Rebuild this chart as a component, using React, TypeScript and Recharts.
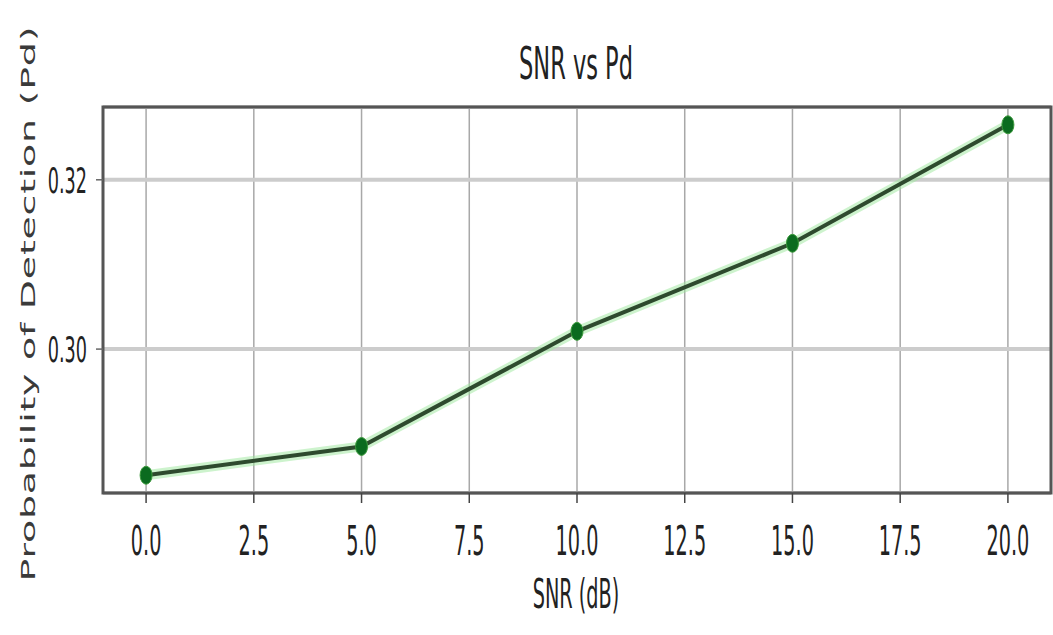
import React from 'react';
import { LineChart, Line, XAxis, YAxis, CartesianGrid, ReferenceArea } from 'recharts';

const snr = [0, 5, 10, 15, 20];
const pd = [0.2851, 0.2885, 0.3021, 0.3125, 0.3265];
const xTicks = [0, 2.5, 5, 7.5, 10, 12.5, 15, 17.5, 20];
const yTicks = [0.3, 0.32];

const data = snr.map((s, i) => ({ snr: s, pd: pd[i] }));

const FONT = '"DejaVu Sans", sans-serif';
const TEXT = '#222';

const XTick = (props: any) => {
  const { x, y, payload } = props;
  return (
    <g transform={`translate(${x},${y + 50}) scale(0.47,1)`}>
      <text x={0} y={0} textAnchor="middle" fontFamily={FONT} fontSize={41} fill={TEXT}>
        {Number(payload.value).toFixed(1)}
      </text>
    </g>
  );
};

const YTick = (props: any) => {
  const { y, payload } = props;
  return (
    <g transform={`translate(87,${y + 13}) scale(0.49,1)`}>
      <text x={0} y={0} textAnchor="end" fontFamily={FONT} fontSize={36} fill={TEXT}>
        {Number(payload.value).toFixed(2)}
      </text>
    </g>
  );
};

const Dot = (props: any) => {
  const { cx, cy } = props;
  if (cx == null || cy == null) return null;
  return <ellipse cx={cx} cy={cy} rx={6} ry={9} fill="#0b6b1f" stroke="#3c9a3c" strokeWidth={1} />;
};

export default function App() {
  return (
    <div style={{ position: 'absolute', left: 0, top: 0, width: 1053, height: 635, background: '#fff' }}>
      <LineChart width={1053} height={635} data={data} margin={{ top: 107, right: 2, bottom: 0, left: 0 }}>
        <CartesianGrid horizontal={false} stroke="#a8a8a8" strokeWidth={1.5} />
        <CartesianGrid vertical={false} stroke="#cccccc" strokeWidth={4} />
        <XAxis
          dataKey="snr"
          type="number"
          domain={[-1, 21]}
          ticks={xTicks}
          allowDataOverflow
          height={142}
          tickSize={10}
          tick={<XTick />}
          axisLine={false}
          tickLine={{ stroke: '#444', strokeWidth: 1.5 }}
        />
        <YAxis
          type="number"
          domain={[0.283, 0.3286]}
          ticks={yTicks}
          allowDataOverflow
          width={103}
          tickSize={7}
          tick={<YTick />}
          axisLine={false}
          tickLine={{ stroke: '#666', strokeWidth: 1.5 }}
        />
        <ReferenceArea
          x1={-1}
          x2={21}
          y1={0.283}
          y2={0.3286}
          fill="none"
          stroke="#555"
          strokeWidth={3}
          ifOverflow="visible"
        />
        <Line
          dataKey="pd"
          stroke="#9be89b"
          strokeOpacity={0.5}
          strokeWidth={10}
          dot={false}
          activeDot={false}
          isAnimationActive={false}
        />
        <Line
          dataKey="pd"
          stroke="#2e4a2e"
          strokeWidth={4}
          dot={<Dot />}
          activeDot={false}
          isAnimationActive={false}
        />
      </LineChart>
      <svg
        width={1053}
        height={635}
        style={{ position: 'absolute', left: 0, top: 0, pointerEvents: 'none' }}
      >
        <g transform="translate(576,79) scale(0.5,1)">
          <text x={0} y={0} textAnchor="middle" fontFamily={FONT} fontSize={45} fill={TEXT}>
            SNR vs Pd
          </text>
        </g>
        <g transform="translate(576,608) scale(0.47,1)">
          <text x={0} y={0} textAnchor="middle" fontFamily={FONT} fontSize={41} fill={TEXT}>
            SNR (dB)
          </text>
        </g>
        <g transform="translate(35,304) rotate(-90) scale(1,0.5)">
          <text
            x={0}
            y={0}
            textAnchor="middle"
            fontFamily={FONT}
            fontSize={38}
            fill="#3a3a3a"
            textLength={555}
            lengthAdjust="spacing"
          >
            Probability of Detection (Pd)
          </text>
        </g>
      </svg>
    </div>
  );
}
